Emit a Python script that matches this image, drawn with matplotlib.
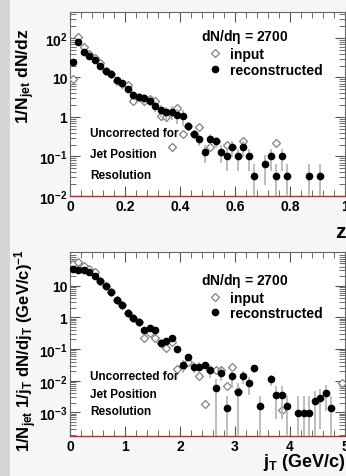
import matplotlib
matplotlib.use("Agg")
import matplotlib.pyplot as plt
from matplotlib.lines import Line2D
from matplotlib.patches import Rectangle

plt.rcParams['font.family'] = ['Liberation Sans', 'DejaVu Sans']
plt.rcParams['font.weight'] = 'bold'
plt.rcParams['mathtext.fontset'] = 'custom'
plt.rcParams['mathtext.rm'] = 'Liberation Sans:bold'
plt.rcParams['mathtext.it'] = 'Liberation Sans:bold'
plt.rcParams['mathtext.bf'] = 'Liberation Sans:bold'
plt.rcParams['mathtext.default'] = 'regular'

# ---- top panel: z distribution ----
z_reco = [0.01, 0.03, 0.05, 0.07, 0.09, 0.11, 0.13, 0.15, 0.17, 0.19,
          0.21, 0.23, 0.25, 0.27, 0.29, 0.31, 0.33, 0.35, 0.37, 0.39,
          0.41, 0.43, 0.45, 0.47, 0.49, 0.51, 0.53, 0.55, 0.57, 0.59,
          0.61, 0.63, 0.65, 0.67, 0.71, 0.73, 0.75, 0.77, 0.79, 0.87, 0.91]
dndz_reco = [24, 80, 43, 35, 28, 19, 15, 12.5, 8.4, 7.2,
             5.1, 3.6, 3.3, 3.1, 2.6, 1.9, 1.5, 1.3, 1.36, 1.12,
             1.05, 0.58, 0.37, 0.27, 0.13, 0.28, 0.24, 0.13, 0.10, 0.17,
             0.10, 0.17, 0.10, 0.032, 0.065, 0.10, 0.032, 0.10, 0.032, 0.032, 0.032]
dndz_reco_err = [2, 4, 3, 3, 2.5, 2, 1.7, 1.6, 1.3, 1.2,
                 1.0, 0.85, 0.8, 0.8, 0.7, 0.6, 0.5, 0.5, 0.5, 0.45,
                 0.45, 0.12, 0.1, 0.09, 0.06, 0.09, 0.08, 0.06, 0.058, 0.075,
                 0.058, 0.075, 0.058, 0.032, 0.046, 0.058, 0.032, 0.058, 0.032, 0.032, 0.032]

z_inp = [0.01, 0.03, 0.05, 0.07, 0.09, 0.11, 0.13, 0.15, 0.17, 0.19,
         0.21, 0.23, 0.25, 0.27, 0.29, 0.31, 0.33, 0.35, 0.37, 0.39,
         0.41, 0.43, 0.45, 0.47, 0.51, 0.53, 0.57, 0.59, 0.63, 0.75]
dndz_inp = [9, 107, 60, 39, 31, 23, 15, 12, 8, 7,
            6.5, 2.6, 3.2, 2.6, 2.9, 2.5, 1.07, 1.0, 0.17, 1.66,
            0.37, 0.6, 0.37, 0.55, 0.17, 0.24, 0.19, 0.17, 0.24, 0.22]

# ---- bottom panel: jT distribution ----
jt_reco = [0.05, 0.15, 0.25, 0.35, 0.45, 0.55, 0.65, 0.75, 0.85, 0.95,
           1.05, 1.15, 1.25, 1.35, 1.45, 1.55, 1.65, 1.75, 1.85, 1.95,
           2.05, 2.15, 2.25, 2.35, 2.45, 2.55, 2.65, 2.75, 2.85, 2.95,
           3.05, 3.15, 3.25, 3.35, 3.45, 3.65, 3.75, 3.85, 3.95, 4.15,
           4.25, 4.35, 4.45, 4.55, 4.65, 4.75]
dndjt_reco = [34, 32, 32, 26, 20, 14, 10, 6.2, 3.6, 2.5,
              1.4, 0.93, 0.73, 0.41, 0.45, 0.41, 0.16, 0.18, 0.23, 0.10,
              0.032, 0.055, 0.028, 0.028, 0.032, 0.022, 0.0058, 0.018, 0.0014, 0.014,
              0.0043, 0.014, 0.0085, 0.025, 0.0016, 0.011, 0.0036, 0.0036, 0.0016, 0.00096,
              0.00096, 0.00096, 0.0023, 0.0028, 0.0041, 0.0014]
dndjt_reco_err = [1.5, 1.5, 1.5, 1.3, 1.0, 0.8, 0.6, 0.4, 0.25, 0.2,
                  0.12, 0.09, 0.08, 0.04, 0.045, 0.04, 0.025, 0.025, 0.03, 0.02,
                  0.014, 0.015, 0.01, 0.01, 0.008, 0.01, 0.0058, 0.008, 0.002, 0.008,
                  0.0043, 0.006, 0.005, 0.007, 0.0016, 0.004, 0.003, 0.003, 0.0016, 0.0024,
                  0.0024, 0.0024, 0.0025, 0.0025, 0.003, 0.002]

jt_inp = [0.05, 0.15, 0.25, 0.35, 0.45, 0.55, 0.65, 0.75, 0.85, 0.95,
          1.05, 1.15, 1.25, 1.35, 1.45, 1.55, 1.65, 1.75, 1.85, 1.95,
          2.05, 2.15, 2.35, 2.45, 2.55, 2.65, 2.75, 2.85, 2.95, 3.05,
          3.85, 4.95]
dndjt_inp = [48, 55, 43, 34, 26, 14, 10, 6.2, 3.6, 2.5,
             1.4, 0.93, 0.73, 0.23, 0.32, 0.23, 0.16, 0.11, 0.17, 0.023,
             0.03, 0.04, 0.014, 0.0019, 0.021, 0.022, 0.022, 0.0069, 0.028, 0.0046,
             0.0012, 0.0085]

ebar_col = '#b8b8b8'
fig = plt.figure(figsize=(3.46, 4.77), dpi=100)
fig.patch.set_facecolor('#f6f6f6')
fig.patches.append(Rectangle((0, 0), 10 / 346, 1, transform=fig.transFigure,
                             facecolor='#d6d6d6', edgecolor='none', zorder=-1))

ax1 = fig.add_axes([70 / 346, 1 - 197 / 477, 275 / 346, 184 / 477])
ax2 = fig.add_axes([70 / 346, 1 - 437 / 477, 275 / 346, 184 / 477])


def style_axis(ax):
    ax.set_facecolor('white')
    ax.set_yscale('log')
    ax.tick_params(which='both', direction='in', top=True, right=True,
                   labelsize=10, pad=2, color='#555555')
    ax.tick_params(which='major', length=7)
    ax.tick_params(which='minor', length=4)
    for s in ['left', 'top', 'right']:
        ax.spines[s].set_color('#666666')
        ax.spines[s].set_linewidth(0.8)
    ax.spines['bottom'].set_color('#9a3b3b')
    ax.spines['bottom'].set_linewidth(1.0)


# top
style_axis(ax1)
ax1.plot(z_inp, dndz_inp, 'D', mfc='white', mec='#808080', ms=3.6, mew=0.9, zorder=3)
ax1.errorbar(z_reco, dndz_reco, yerr=dndz_reco_err, fmt='o', color='black', ms=4.5,
             ecolor=ebar_col, elinewidth=1.3, capsize=0, zorder=4)
ax1.set_xlim(0, 1)
ax1.set_ylim(0.01, 455)
ax1.set_xticks([0, 0.2, 0.4, 0.6, 0.8, 1.0])
ax1.set_xticklabels(['0', '0.2', '0.4', '0.6', '0.8', '1'])
ax1.set_xticks([0.04 * i for i in range(26)], minor=True)
ax1.set_yticks([0.01, 0.1, 1, 10, 100])
ax1.set_yticklabels(['$10^{-2}$', '$10^{-1}$', '1', '10', '$10^{2}$'])
ax1.set_ylabel('1/N$_{jet}$ dN/dz', fontsize=12.5, fontweight='bold',
               loc='top', va='center')
ax1.yaxis.set_label_coords(-0.16, 0.915)
fig.text(340 / 346, 1 - 233 / 477, 'z', fontsize=15, fontweight='bold',
         ha='center', va='center')

# bottom
style_axis(ax2)
ax2.plot(jt_inp, dndjt_inp, 'D', mfc='white', mec='#808080', ms=3.6, mew=0.9, zorder=3)
ax2.errorbar(jt_reco, dndjt_reco, yerr=dndjt_reco_err, fmt='o', color='black', ms=4.5,
             ecolor=ebar_col, elinewidth=1.3, capsize=0, zorder=4)
ax2.set_xlim(0, 5)
ax2.set_ylim(1.8e-4, 115)
ax2.set_xticks([0, 1, 2, 3, 4, 5])
ax2.set_xticks([0.2 * i for i in range(26)], minor=True)
ax2.set_yticks([0.001, 0.01, 0.1, 1, 10])
ax2.set_yticklabels(['$10^{-3}$', '$10^{-2}$', '$10^{-1}$', '1', '10'])
ax2.set_ylabel('1/N$_{jet}$ 1/j$_T$ dN/dj$_T$ (GeV/c)$^{-1}$', fontsize=12,
               fontweight='bold', va='center')
ax2.yaxis.set_label_coords(-0.16, 0.47)
fig.text(346 / 346, 1 - 463 / 477, 'j$_T$ (GeV/c)', fontsize=13, fontweight='bold',
         ha='right', va='center')

for ax, ytop, ytxt in [(ax1, 0.97, [0.34, 0.23, 0.115]),
                       (ax2, 0.95, [0.325, 0.228, 0.135])]:
    handles = [Line2D([], [], ls='none', marker='D', mfc='white', mec='#808080', ms=3.6, mew=0.9),
               Line2D([], [], ls='none', marker='o', color='black', ms=4.5)]
    leg = ax.legend(handles, ['input', 'reconstructed'], loc='upper left',
                    bbox_to_anchor=(0.44, ytop), frameon=False,
                    title='dN/d$\\eta$ = 2700', alignment='left',
                    prop={'weight': 'bold', 'size': 10}, handlelength=2.0,
                    handletextpad=0.1, labelspacing=0.12, borderpad=0.2)
    leg.get_title().set_fontweight('bold')
    leg.get_title().set_fontsize(10)
    for t, y in zip(['Uncorrected for', 'Jet Position', 'Resolution'], ytxt):
        ax.text(0.073, y, t, transform=ax.transAxes, fontsize=8.5,
                fontweight='bold', va='center')

fig.savefig('out.png', dpi=100, facecolor=fig.get_facecolor())
